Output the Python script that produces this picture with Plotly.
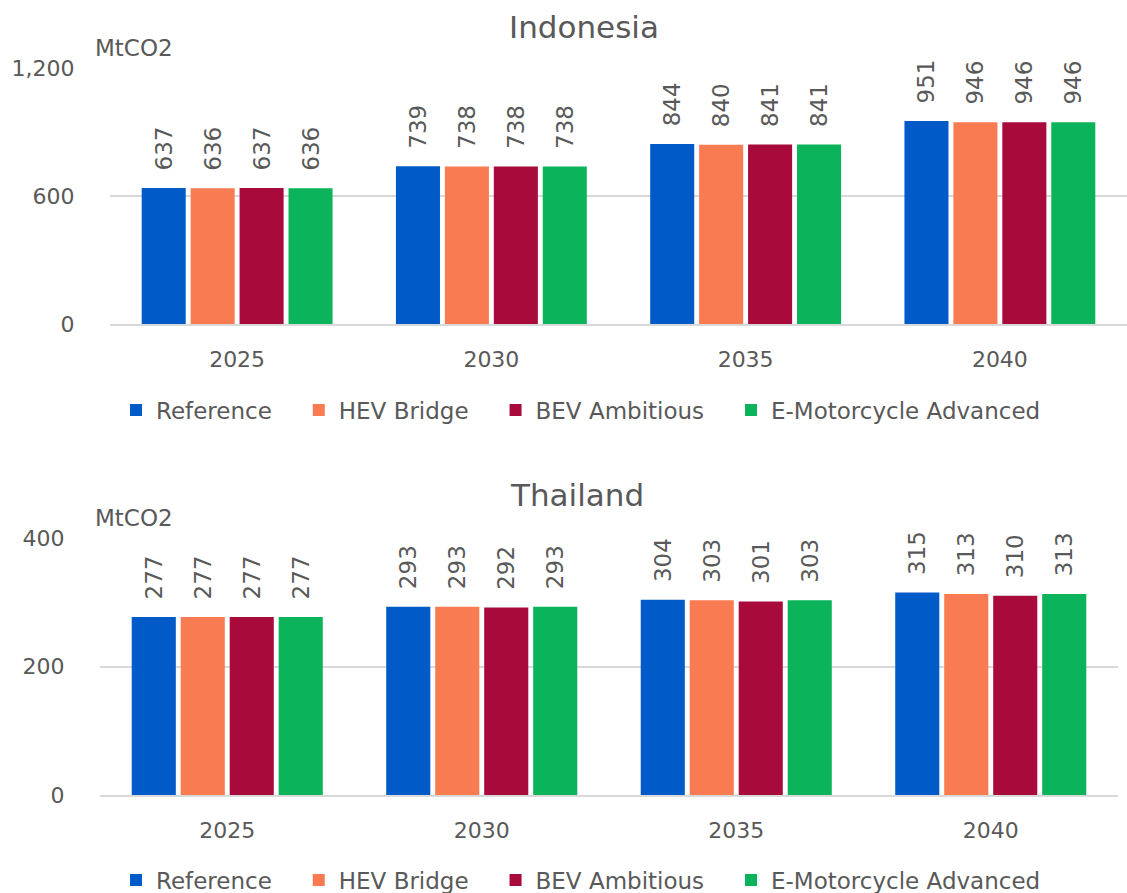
import plotly.graph_objects as go

years = ["2025", "2030", "2035", "2040"]
series = ["Reference", "HEV Bridge", "BEV Ambitious", "E-Motorcycle Advanced"]
colors = ["#005bc8", "#f97b52", "#a80a3c", "#0bb45a"]

indonesia = {
    "Reference": [637, 739, 844, 951],
    "HEV Bridge": [636, 738, 840, 946],
    "BEV Ambitious": [637, 738, 841, 946],
    "E-Motorcycle Advanced": [636, 738, 841, 946],
}
thailand = {
    "Reference": [277, 293, 304, 315],
    "HEV Bridge": [277, 293, 303, 313],
    "BEV Ambitious": [277, 292, 301, 310],
    "E-Motorcycle Advanced": [277, 293, 303, 313],
}

W, H = 1127, 893
FONT = "DejaVu Sans"
GREY = "#595959"
FS = 22
PAD = "\u00a0\u00a0"

fig = go.Figure()
for name, col in zip(series, colors):
    fig.add_trace(go.Bar(
        x=years, y=indonesia[name], name=name + "\u00a0\u00a0\u00a0",
        marker=dict(color=col, line=dict(width=0)),
        texttemplate=PAD + "%{y}", textposition="outside", textangle=-90,
        constraintext="none",
        textfont=dict(size=23, color=GREY, family=FONT), cliponaxis=False,
        xaxis="x", yaxis="y", legend="legend"))
for name, col in zip(series, colors):
    fig.add_trace(go.Bar(
        x=years, y=thailand[name], name=name + "\u00a0\u00a0\u00a0",
        marker=dict(color=col, line=dict(width=0)),
        texttemplate=PAD + "%{y}", textposition="outside", textangle=-90,
        constraintext="none",
        textfont=dict(size=23, color=GREY, family=FONT), cliponaxis=False,
        xaxis="x2", yaxis="y2", legend="legend2"))

def px(xp):
    return xp / W

def py(yp):
    return 1 - yp / H

axis_x = dict(showgrid=False, showline=True, linecolor="#d9d9d9", linewidth=1.5,
              ticks="outside", ticklen=15, tickcolor="rgba(0,0,0,0)",
              tickfont=dict(size=FS, color=GREY, family=FONT), fixedrange=True,
              automargin=False)
axis_y = dict(showgrid=True, gridcolor="#d9d9d9", gridwidth=1.5, zeroline=False,
              showline=False, tickfont=dict(size=FS, color=GREY, family=FONT),
              ticks="outside", ticklen=30, tickcolor="rgba(0,0,0,0)",
              tickformat=",", automargin=False)

leg_common = dict(orientation="h", xanchor="left", yanchor="middle",
                  font=dict(size=23, color=GREY, family=FONT), itemwidth=30,
                  traceorder="normal")

fig.update_layout(
    width=W, height=H,
    margin=dict(l=0, r=0, t=0, b=0, autoexpand=False),
    paper_bgcolor="white", plot_bgcolor="white",
    font=dict(family=FONT, color=GREY),
    barmode="group", bargap=0.23, bargroupgap=0.1,
    xaxis=dict(domain=[px(110), 1.0], anchor="y", **axis_x),
    yaxis=dict(domain=[py(324), py(68)], anchor="x", range=[0, 1200],
               tickvals=[0, 600, 1200], **axis_y),
    xaxis2=dict(domain=[px(100), px(1118)], anchor="y2", **axis_x),
    yaxis2=dict(domain=[py(795), py(538)], anchor="x2", range=[0, 400],
                tickvals=[0, 200, 400], **axis_y),
    legend=dict(x=px(116), y=py(410), **leg_common),
    legend2=dict(x=px(116), y=py(880), **leg_common),
    annotations=[
        dict(text="Indonesia", x=px(584), y=py(27), xref="paper", yref="paper",
             xanchor="center", yanchor="middle",
             showarrow=False, font=dict(size=31, color=GREY, family=FONT)),
        dict(text="Thailand", x=px(577), y=py(495), xref="paper", yref="paper",
             xanchor="center", yanchor="middle",
             showarrow=False, font=dict(size=31, color=GREY, family=FONT)),
        dict(text="MtCO2", x=px(93), y=py(48), xref="paper", yref="paper",
             xanchor="left", yanchor="middle",
             showarrow=False, font=dict(size=23, color=GREY, family=FONT)),
        dict(text="MtCO2", x=px(93), y=py(518), xref="paper", yref="paper",
             xanchor="left", yanchor="middle",
             showarrow=False, font=dict(size=23, color=GREY, family=FONT)),
    ],
)

fig.write_html("out.html")
